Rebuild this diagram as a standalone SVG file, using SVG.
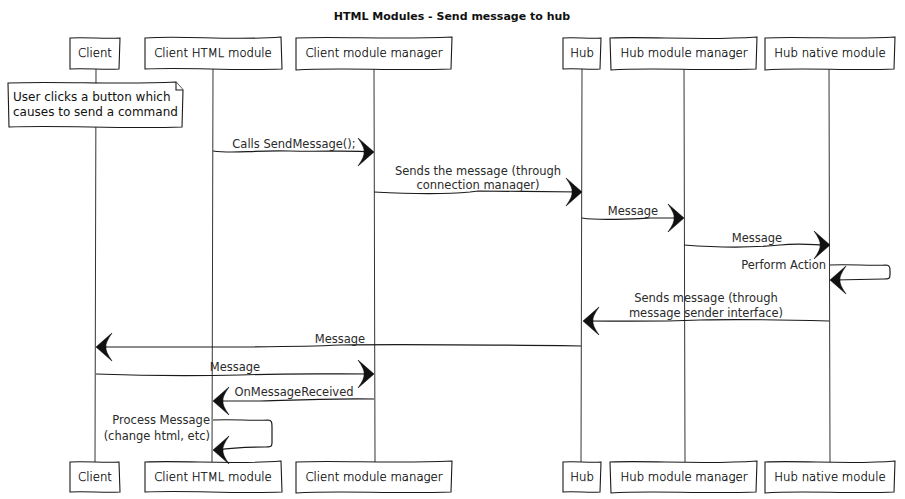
<svg xmlns="http://www.w3.org/2000/svg" width="905" height="499" viewBox="0 0 905 499">
<style>
.bg{fill:#ffffff}
.box{fill:#ffffff;stroke:#1a1a1a;stroke-width:1.1}
.life{fill:none;stroke:#333333;stroke-width:1}
.msg{fill:none;stroke:#1a1a1a;stroke-width:1.2}
.pt{font-family:"DejaVu Sans",Verdana,sans-serif;font-size:11.7px;font-weight:300;fill:#000000;stroke:#000000;stroke-width:0.25;text-anchor:middle}
.mt{font-family:"DejaVu Sans",Verdana,sans-serif;font-size:11.5px;fill:#2a2a2a}
.nt{font-family:"DejaVu Sans",Verdana,sans-serif;font-size:12px;fill:#111111}
.title{font-family:"DejaVu Sans",Verdana,sans-serif;font-size:11px;font-weight:bold;fill:#111111;text-anchor:middle}
.c{text-anchor:middle}
.r{text-anchor:end}
.ah{fill:#111111;stroke:#111111;stroke-width:0.6}
</style>
<defs>
<path id="ah" d="M1,0 L-15,-14 Q-8,-4 -9,0 Q-8,4 -15,14 Z"/>
</defs>
<rect class="bg" x="0" y="0" width="905" height="499"/>
<text class="title" x="452" y="20">HTML Modules - Send message to hub</text>

<g id="lifelines">
<path class="life" d="M96,69 L95,462"/>
<path class="life" d="M213,69 L212,462"/>
<path class="life" d="M374,69 L375,462"/>
<path class="life" d="M582,69 L581,462"/>
<path class="life" d="M684,69 L685,462"/>
<path class="life" d="M829,69 L830,462"/>
</g>

<g id="p-client">
<path class="box" d="M70,38 C85,37 105,39 120,38 L119,69 C105,70 85,68 70,69 Z"/>
<text class="pt" x="95" y="57">Client</text>
<path class="box" d="M70,462 C85,461 105,463 119,462 L120,492 C105,493 85,491 70,492 Z"/>
<text class="pt" x="95" y="481">Client</text>
</g>
<g id="p-chm">
<path class="box" d="M145,38 C185,35 230,41 281,37 L282,69 C230,71 190,67 145,69 Z"/>
<text class="pt" x="213" y="57">Client HTML module</text>
<path class="box" d="M145,462 C185,460 230,465 281,461 L282,492 C230,494 190,490 145,492 Z"/>
<text class="pt" x="213" y="481">Client HTML module</text>
</g>
<g id="p-cmm">
<path class="box" d="M296,38 C340,36 390,40 452,37 L451,69 C390,71 340,67 296,70 Z"/>
<text class="pt" x="374" y="57">Client module manager</text>
<path class="box" d="M296,462 C340,460 390,464 452,461 L451,492 C390,494 340,490 296,493 Z"/>
<text class="pt" x="374" y="481">Client module manager</text>
</g>
<g id="p-hub">
<path class="box" d="M563,38 C575,37 590,39 601,38 L600,69 C590,70 575,68 563,69 Z"/>
<text class="pt" x="582" y="57">Hub</text>
<path class="box" d="M563,462 C575,461 590,463 601,462 L600,492 C590,493 575,491 563,492 Z"/>
<text class="pt" x="582" y="481">Hub</text>
</g>
<g id="p-hmm">
<path class="box" d="M610,38 C650,36 700,41 757,37 L756,69 C700,71 650,67 611,70 Z"/>
<text class="pt" x="684" y="57">Hub module manager</text>
<path class="box" d="M610,462 C650,460 700,465 757,461 L756,492 C700,494 650,490 611,493 Z"/>
<text class="pt" x="684" y="481">Hub module manager</text>
</g>
<g id="p-hnm">
<path class="box" d="M765,38 C800,36 850,40 895,37 L894,69 C850,71 800,67 765,70 Z"/>
<text class="pt" x="830" y="57">Hub native module</text>
<path class="box" d="M765,462 C800,460 850,465 895,461 L894,492 C850,494 800,490 765,493 Z"/>
<text class="pt" x="830" y="481">Hub native module</text>
</g>

<g id="note">
<path class="box" d="M8,83 C60,81 120,85 176,82 L183,90 L182,127 C120,129 60,125 9,127 Z"/>
<path class="box" d="M176,82 L176,90 L183,90"/>
<text class="nt" x="13" y="101">User clicks a button which</text>
<text class="nt" x="13" y="116">causes to send a command</text>
</g>

<g id="connectors">
<path class="msg" d="M213,151 C235,154 250,150 290,151 C320,152 350,150 372,152"/>
<use href="#ah" class="ah" transform="translate(373,152)"/>
<text class="mt c" x="294" y="148">Calls SendMessage();</text>

<path class="msg" d="M374,192 C410,194 440,195 470,192 L478,191 C510,191 550,192 580,192"/>
<use href="#ah" class="ah" transform="translate(581,192)"/>
<text class="mt c" x="478" y="175">Sends the message (through</text>
<text class="mt c" x="478" y="189">connection manager)</text>

<path class="msg" d="M582,218 C600,221 630,219 650,218 L682,218"/>
<use href="#ah" class="ah" transform="translate(683,218)"/>
<text class="mt c" x="633" y="215">Message</text>

<path class="msg" d="M684,245 C710,247 750,248 780,245 C800,243 815,245 828,245"/>
<use href="#ah" class="ah" transform="translate(829,245)"/>
<text class="mt c" x="757" y="242">Message</text>

<path class="msg" d="M830,265 C850,264 870,266 886,265 C890,265 890,268 890,271 L890,275 C890,279 888,279 884,279 L834,280"/>
<use href="#ah" class="ah" transform="translate(831,280) scale(-1,1)"/>
<text class="mt r" x="826" y="269">Perform Action</text>

<path class="msg" d="M829,321 C790,320 740,319 700,320 C650,322 620,321 586,321"/>
<use href="#ah" class="ah" transform="translate(584,321) scale(-1,1)"/>
<text class="mt c" x="706" y="302">Sends message (through</text>
<text class="mt c" x="706" y="317">message sender interface)</text>

<path class="msg" d="M581,346 C500,345 400,344 340,345 C300,347 250,347 200,347 L99,347"/>
<use href="#ah" class="ah" transform="translate(97,347) scale(-1,1)"/>
<text class="mt c" x="340" y="343">Message</text>

<path class="msg" d="M96,374 C150,376 200,376 240,375 C290,373 330,374 372,374"/>
<use href="#ah" class="ah" transform="translate(373,374)"/>
<text class="mt c" x="235" y="371">Message</text>

<path class="msg" d="M374,399 C340,398 300,400 260,401 C240,401 230,401 216,401"/>
<use href="#ah" class="ah" transform="translate(214,401) scale(-1,1)"/>
<text class="mt c" x="294" y="396">OnMessageReceived</text>

<path class="msg" d="M213,420 C235,419 250,421 268,420 C272,420 272,423 272,427 L272,443 C272,447 270,447 265,447 C245,447 230,448 217,450"/>
<use href="#ah" class="ah" transform="translate(214,450) scale(-1,1)"/>
<text class="mt r" x="210" y="424">Process Message</text>
<text class="mt r" x="210" y="440">(change html, etc)</text>
</g>
</svg>
